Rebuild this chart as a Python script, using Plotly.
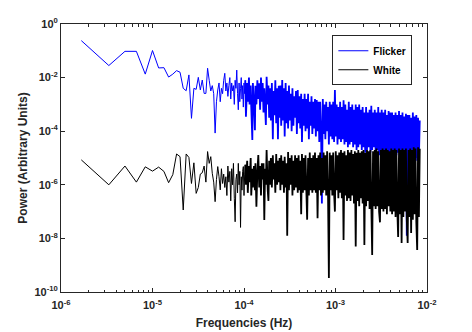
import plotly.graph_objects as go

# frequency resolution of the spectrum (Hz per bin)
FREQ_STEP_HZ = 1.0 / 600000.0

# spectral bin indices that are drawn (frequency = index * FREQ_STEP_HZ)
low_bins = [
    1, 2, 3, 4, 5, 6, 7, 8, 9, 10, 11, 12, 13, 14, 15, 16, 17, 18, 19, 20,
    21, 22, 23, 24, 25, 26, 27, 28, 29, 30, 31, 32, 33, 34, 35, 36, 37, 38, 39, 40,
    41, 42, 43, 44, 45, 46, 47, 48, 49, 50, 51, 52, 53, 54, 55, 56, 57, 58, 59, 60, 61,
]
high_bins = [
    62, 63, 65, 66, 68, 69, 71, 72, 74, 75,
    77, 79, 80, 82, 84, 86, 88, 90, 92, 94,
    96, 98, 100, 102, 104, 106, 109, 111, 113, 116,
    118, 121, 124, 126, 129, 132, 135, 138, 141, 144,
    147, 150, 153, 157, 160, 164, 167, 171, 175, 178,
    182, 186, 190, 195, 199, 203, 208, 212, 217, 222,
    227, 232, 237, 242, 247, 253, 258, 264, 270, 276,
    282, 288, 294, 301, 307, 314, 321, 328, 335, 343,
    350, 358, 366, 374, 382, 391, 399, 408, 417, 426,
    436, 445, 455, 465, 475, 486, 497, 508, 519, 530,
    542, 554, 566, 579, 591, 604, 618, 631, 645, 659,
    674, 689, 704, 720, 735, 752, 768, 785, 802, 820,
    838, 857, 876, 895, 915, 935, 955, 976, 998, 1020,
    1042, 1065, 1089, 1113, 1137, 1162, 1188, 1214, 1241, 1268,
    1296, 1325, 1354, 1384, 1414, 1446, 1477, 1510, 1543, 1577,
    1612, 1648, 1684, 1721, 1759, 1798, 1837, 1878, 1919, 1961,
    2005, 2049, 2094, 2140, 2187, 2235, 2284, 2335, 2386, 2439,
    2492, 2547, 2603, 2661, 2719, 2779, 2840, 2903, 2967, 3032,
    3099, 3167, 3237, 3308, 3381, 3455, 3531, 3609, 3688, 3770,
    3853, 3937, 4024, 4113, 4203, 4296, 4390, 4487, 4586, 4687,
    4790, 4895, 5000,
]

# log10 of power (arbitrary units)
flicker_log_low = [
    -0.62, -1.55, -1.02, -1.02, -1.87, -0.99, -1.64, -1.63, -1.98, -1.87,
    -1.74, -1.80, -2.40, -2.49, -1.90, -3.52, -2.40, -2.44, -1.99, -2.46,
    -2.09, -2.59, -2.59, -1.65, -2.10, -2.50, -2.30, -2.60, -4.07, -2.90,
    -2.46, -2.20, -2.90, -2.40, -2.60, -2.10, -1.84, -2.50, -2.20, -2.70,
    -2.30, -2.00, -2.80, -2.20, -2.50, -2.30, -3.00, -2.10, -2.40, -1.72,
    -2.60, -3.20, -2.20, -2.90, -2.40, -2.00, -2.80, -2.30, -3.10, -2.20,
    -2.60,
]
flicker_log_high = [
    -2.1, -3.46, -2.2, -2.9, -2.0, -3.0, -2.3, -3.1, -4.33, -2.2,
    -2.9, -3.96, -2.3, -3.0, -2.1, -2.8, -2.21, -3.2, -2.0, -2.9,
    -2.2, -3.3, -2.4, -3.1, -3.77, -1.97, -3.0, -2.3, -3.5, -2.4,
    -3.6, -2.2, -4.3, -2.5, -3.4, -2.1, -3.7, -2.4, -4.3, -2.3,
    -3.5, -2.3, -3.8, -2.09, -3.6, -2.4, -4.2, -2.2, -3.7, -2.5,
    -3.9, -2.3, -3.6, -2.6, -4.0, -2.4, -3.8, -2.7, -3.5, -2.5,
    -4.1, -2.46, -3.7, -2.7, -3.9, -2.6, -4.4, -2.8, -3.8, -2.6,
    -4.0, -2.8, -3.9, -2.6, -4.3, -2.9, -3.8, -2.7, -4.1, -2.9,
    -3.9, -2.8, -4.2, -2.84, -4.0, -2.9, -4.4, -2.9, -3.9, -6.7,
    -2.8, -4.1, -3.0, -4.3, -2.9, -4.0, -3.1, -4.5, -2.9, -4.2,
    -3.0, -4.3, -2.9, -4.4, -2.46, -4.2, -3.0, -4.5, -3.1, -4.3,
    -2.9, -4.4, -3.1, -4.3, -2.85, -4.5, -3.0, -4.4, -3.2, -4.6,
    -2.9, -4.5, -3.1, -4.4, -3.0, -4.6, -3.2, -4.5, -3.0, -4.7,
    -3.1, -4.6, -3.0, -4.5, -3.2, -4.7, -3.1, -4.6, -3.3, -4.8,
    -3.1, -4.7, -3.3, -4.6, -3.2, -4.8, -3.05, -4.7, -3.3, -4.6,
    -3.2, -4.8, -3.3, -4.7, -3.1, -4.9, -3.3, -4.8, -3.2, -4.7,
    -3.3, -4.9, -3.2, -4.8, -3.4, -4.9, -3.25, -4.8, -3.3, -5.0,
    -3.3, -4.8, -3.4, -5.0, -3.3, -4.9, -3.4, -4.8, -3.25, -5.0,
    -3.4, -4.9, -3.3, -5.0, -3.45, -4.9, -3.35, -7.9, -3.4, -5.0,
    -3.4, -5.0, -3.5, -4.9, -3.3, -5.1, -3.45, -5.0, -3.4, -5.1,
    -3.5, -5.0, -3.6,
]
white_log_low = [
    -5.07, -6.00, -5.30, -5.90, -5.33, -5.49, -5.34, -5.50, -5.92, -5.62,
    -4.85, -4.95, -6.94, -4.85, -4.98, -5.95, -5.18, -6.32, -6.10, -5.60,
    -5.55, -5.30, -5.90, -4.76, -5.20, -4.95, -5.57, -5.90, -6.63, -5.80,
    -5.32, -5.70, -6.19, -5.40, -5.95, -5.60, -6.10, -5.70, -6.40, -5.30,
    -5.90, -5.50, -6.60, -5.40, -6.00, -5.20, -6.50, -7.38, -5.80, -5.60,
    -6.30, -5.20, -6.00, -5.50, -7.59, -5.70, -6.20, -5.50, -5.32, -6.40,
    -5.60,
]
white_log_high = [
    -5.25, -6.0, -5.1, -6.3, -5.3, -5.9, -5.0, -6.4, -5.4, -6.1,
    -5.3, -6.2, -5.2, -6.82, -5.5, -4.89, -6.1, -5.3, -6.4, -5.2,
    -5.8, -5.2, -7.31, -5.4, -6.0, -4.7, -6.2, -6.6, -5.1, -6.0,
    -5.0, -6.1, -4.9, -5.8, -5.2, -6.3, -4.85, -6.0, -5.1, -5.9,
    -5.0, -6.2, -4.9, -6.0, -5.1, -6.3, -4.95, -6.1, -5.2, -7.9,
    -4.78, -6.2, -5.0, -6.0, -4.9, -6.4, -5.1, -6.2, -4.9, -6.1,
    -5.0, -6.3, -4.9, -6.2, -5.1, -7.1, -4.85, -6.3, -5.0, -6.2,
    -4.9, -6.2, -7.3, -5.0, -6.4, -4.8, -6.2, -5.0, -6.3, -4.9,
    -6.2, -4.8, -6.3, -5.0, -7.25, -4.9, -6.2, -4.8, -6.4, -5.0,
    -6.3, -4.8, -6.2, -4.9, -6.4, -4.75, -6.3, -9.48, -4.8, -6.2,
    -4.9, -6.4, -4.8, -6.3, -7.0, -4.75, -6.2, -4.9, -6.5, -4.8,
    -6.3, -4.7, -6.5, -4.8, -8.06, -4.75, -6.4, -4.9, -6.6, -4.7,
    -6.5, -4.8, -6.6, -4.7, -6.4, -4.85, -6.7, -4.75, -8.3, -4.8,
    -6.6, -4.7, -6.8, -4.8, -6.5, -4.75, -6.7, -4.7, -8.25, -4.8,
    -6.8, -4.7, -6.6, -4.75, -6.9, -4.7, -6.7, -8.62, -4.75, -6.8,
    -4.7, -6.9, -4.65, -6.8, -4.75, -7.0, -7.4, -4.7, -6.9, -4.65,
    -7.0, -4.7, -6.9, -4.65, -7.1, -4.7, -6.8, -4.75, -7.0, -4.65,
    -7.1, -4.7, -7.0, -4.65, -7.2, -4.7, -6.9, -7.95, -4.65, -7.1,
    -4.7, -8.17, -4.65, -7.2, -4.7, -7.0, -4.65, -7.3, -8.17, -4.7,
    -7.2, -4.65, -7.8, -4.7, -7.3, -4.6, -7.1, -4.65, -7.4, -8.43,
    -4.6, -7.2, -4.65,
]

# axis ticks
x_tick_exponents = [-6, -5, -4, -3, -2]
y_tick_exponents = [0, -2, -4, -6, -8, -10]

AXIS_COLOR = "#262626"
FONT = "Liberation Sans, Arial, Helvetica, sans-serif"


def to_freq(bin_list):
    return [b * FREQ_STEP_HZ for b in bin_list]


def to_power(log_list):
    return [10 ** v for v in log_list]


def pow_label(e):
    return "10<sup>%d</sup>" % e if e >= 0 else "10<sup>-%d</sup>" % (-e)


fig = go.Figure()
series = [
    ("Flicker", "#0000FF", flicker_log_low, flicker_log_high),
    ("White", "#000000", white_log_low, white_log_high),
]
for name, color, low_vals, high_vals in series:
    # sparse low-frequency part (thin line)
    fig.add_trace(go.Scatter(
        x=to_freq(low_bins + high_bins[:1]), y=to_power(low_vals + high_vals[:1]),
        mode="lines", name=name, legendgroup=name,
        line=dict(color=color, width=1, simplify=False)))
    # dense high-frequency part (many overlapping bins)
    fig.add_trace(go.Scatter(
        x=to_freq(high_bins), y=to_power(high_vals),
        mode="lines", name=name, legendgroup=name, showlegend=False,
        line=dict(color=color, width=1.8, simplify=False)))

minor_x = [m * 10.0 ** e for e in range(-6, -2) for m in range(2, 10)]

# the page body adds an 8px offset; the figure is sized so the plot area
# lands at x 61..427, y 24..292 in the 472x332 window
fig.update_layout(
    width=464, height=324,
    margin=dict(l=53, r=45, t=16, b=40),
    plot_bgcolor="white", paper_bgcolor="white",
    font=dict(family=FONT, size=11, color=AXIS_COLOR),
    showlegend=True,
    legend=dict(x=0.96, y=0.958, xanchor="right", yanchor="top",
                bgcolor="white", bordercolor=AXIS_COLOR, borderwidth=1,
                font=dict(family=FONT, size=10, color="#000000", weight="bold"),
                tracegroupgap=0, itemwidth=30),
    xaxis=dict(
        type="log", range=[-6, -2], automargin=False,
        tickvals=[10.0 ** e for e in x_tick_exponents],
        ticktext=[pow_label(e) for e in x_tick_exponents],
        ticks="inside", ticklen=4, tickcolor=AXIS_COLOR, tickwidth=1,
        ticklabelstandoff=3,
        showline=True, linecolor=AXIS_COLOR, linewidth=1, mirror="ticks",
        showgrid=False, zeroline=False,
        minor=dict(ticks="inside", ticklen=2.5, tickcolor=AXIS_COLOR, tickvals=minor_x, showgrid=False),
        tickfont=dict(family=FONT, size=11, weight="bold", color=AXIS_COLOR),
        title=dict(text="Frequencies (Hz)", standoff=8,
                   font=dict(family=FONT, size=12, weight="bold", color=AXIS_COLOR)),
    ),
    yaxis=dict(
        type="log", range=[-10, 0], automargin=False,
        tickvals=[10.0 ** e for e in y_tick_exponents],
        ticktext=[pow_label(e) for e in y_tick_exponents],
        ticks="inside", ticklen=4, tickcolor=AXIS_COLOR, tickwidth=1,
        showline=True, linecolor=AXIS_COLOR, linewidth=1, mirror="ticks",
        showgrid=False, zeroline=False,
        tickfont=dict(family=FONT, size=11, weight="bold", color=AXIS_COLOR),
        title=dict(text="Power (Arbitrary Units)", standoff=4,
                   font=dict(family=FONT, size=12, weight="bold", color=AXIS_COLOR)),
    ),
)

fig.write_html("out.html")
